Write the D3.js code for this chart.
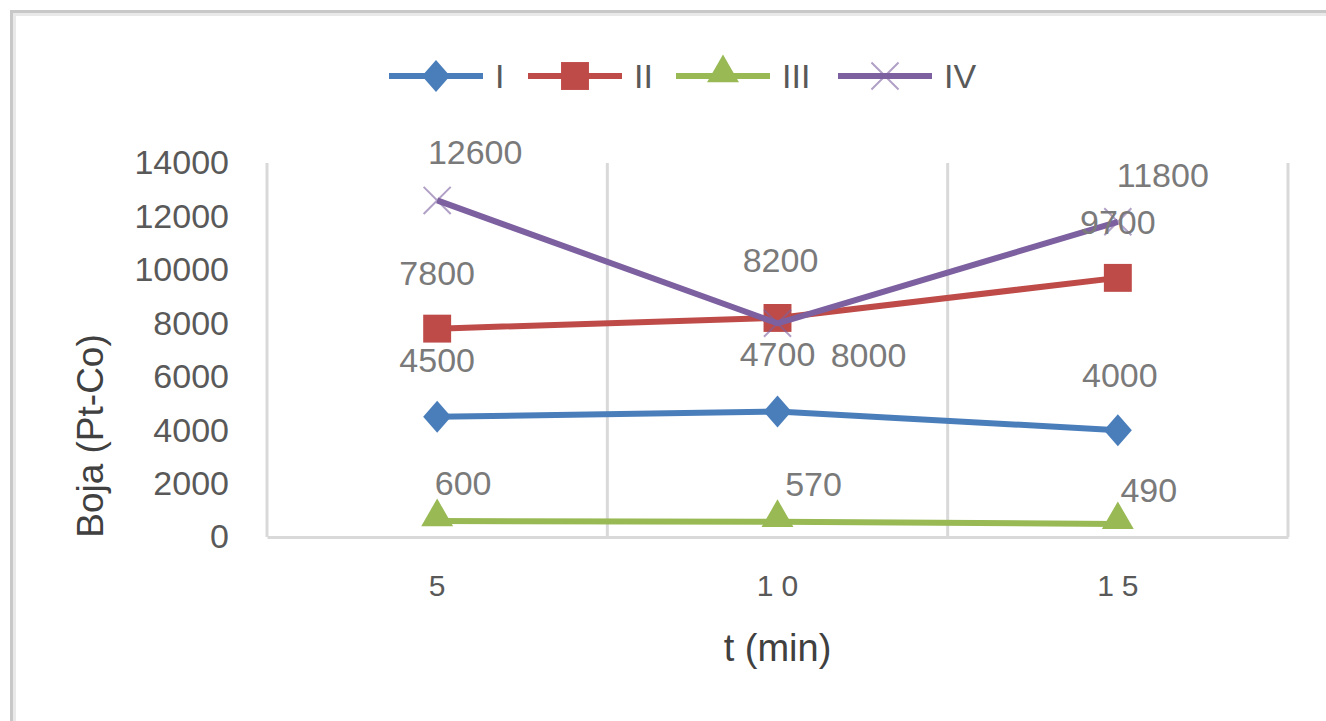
<!DOCTYPE html>
<html>
<head>
<meta charset="utf-8">
<script src="https://cdn.jsdelivr.net/npm/d3@7"></script>
<style>
  html, body { margin: 0; padding: 0; background: #fff; }
  svg { display: block; }
</style>
</head>
<body>
<svg class="chart"></svg>
<script>
// categories on the x axis (t in minutes)
const categories = ["5", "10", "15"];
const seriesNames = ["I", "II", "III", "IV"];

// colour values (Pt-Co) per series
const valuesI = [4500, 4700, 4000];
const valuesII = [7800, 8200, 9700];
const valuesIII = [600, 570, 490];
const valuesIV = [12600, 8000, 11800];

const yTicks = [0, 2000, 4000, 6000, 8000, 10000, 12000, 14000];

function createChart() {
  const width = 1326;
  const height = 721;
  const marginTop = 163;
  const marginBottom = 184;
  const marginLeft = 267;
  const marginRight = 38;

  const series = [
    { name: seriesNames[0], values: valuesI, color: "#4a7ebb", marker: "diamond" },
    { name: seriesNames[1], values: valuesII, color: "#be4b48", marker: "square" },
    { name: seriesNames[2], values: valuesIII, color: "#98b954", marker: "triangle" },
    { name: seriesNames[3], values: valuesIV, color: "#7d60a0", marker: "cross" }
  ];

  // label nudges (dx, dy) relative to each point, roughly as placed in the original
  const labelNudge = [
    [[0, -57], [0, -57], [2, -55]],
    [[0, -56], [3, -58], [0, -56]],
    [[26, -38], [36, -38], [31, -34]],
    [[38, -48], [91, 32], [45, -47]]
  ];

  const x = d3.scaleBand()
    .domain(categories)
    .range([marginLeft, width - marginRight]);

  const y = d3.scaleLinear()
    .domain([0, 14000])
    .range([height - marginBottom, marginTop]);

  const cx = c => x(c) + x.bandwidth() / 2;

  const svg = d3.select("svg.chart")
    .attr("width", width)
    .attr("height", height)
    .attr("viewBox", `0 0 ${width} ${height}`)
    .style("font-family", "'Liberation Sans', Arial, sans-serif");

  // outer chart border (only top/left visible in frame)
  svg.append("rect")
    .attr("x", 11.5).attr("y", 11.5)
    .attr("width", 1500).attr("height", 1000)
    .attr("fill", "none")
    .attr("stroke", "#c8c8c8")
    .attr("stroke-width", 3);
  svg.append("rect")
    .attr("x", 14.5).attr("y", 14.5)
    .attr("width", 1500).attr("height", 1000)
    .attr("fill", "none")
    .attr("stroke", "#e9e9e9")
    .attr("stroke-width", 3);

  // vertical gridlines at category boundaries
  const bounds = categories.map(c => x(c)).concat([width - marginRight]);
  svg.append("g")
    .attr("stroke", "#d9d9d9")
    .attr("stroke-width", 3)
    .selectAll("line")
    .data(bounds)
    .join("line")
    .attr("x1", d => d).attr("x2", d => d)
    .attr("y1", y(14000)).attr("y2", y(0));

  // x axis
  svg.append("g")
    .attr("transform", `translate(0,${y(0)})`)
    .call(d3.axisBottom(x).tickSize(0).tickPadding(38))
    .call(g => g.select(".domain").attr("stroke", "#d9d9d9").attr("stroke-width", 3))
    .call(g => g.selectAll("text")
      .attr("fill", "#595959")
      .attr("font-size", 30)
      .attr("letter-spacing", 8)
      .attr("dx", 4));

  // y axis labels
  svg.append("g")
    .attr("transform", `translate(${marginLeft},0)`)
    .call(d3.axisLeft(y).tickValues(yTicks).tickSize(0).tickPadding(38).tickFormat(d3.format("d")))
    .call(g => g.select(".domain").remove())
    .call(g => g.selectAll("text")
      .attr("fill", "#595959")
      .attr("font-size", 34));

  // axis titles
  svg.append("text")
    .attr("x", (marginLeft + width - marginRight) / 2)
    .attr("y", 648)
    .attr("dy", "0.35em")
    .attr("text-anchor", "middle")
    .attr("fill", "#404040")
    .attr("font-size", 38)
    .text("t (min)");

  svg.append("text")
    .attr("transform", `translate(90,${(y(0) + y(14000)) / 2 + 86}) rotate(-90)`)
    .attr("dy", "0.35em")
    .attr("text-anchor", "middle")
    .attr("fill", "#404040")
    .attr("font-size", 37)
    .text("Boja (Pt-Co)");

  const diamond = () => "M0,-16L14,0L0,16L-14,0Z";
  const markerPath = {
    diamond: diamond,
    square: d3.symbol(d3.symbolSquare, 780),
    triangle: d3.symbol(d3.symbolTriangle, 440),
    cross: d3.symbol(d3.symbolX, 480)
  };

  const line = d3.line()
    .x((d, i) => cx(categories[i]))
    .y(d => y(d));

  const gSeries = svg.append("g")
    .selectAll("g")
    .data(series)
    .join("g");

  gSeries.append("path")
    .attr("fill", "none")
    .attr("stroke", d => d.color)
    .attr("stroke-width", 6)
    .attr("stroke-linejoin", "round")
    .attr("d", d => line(d.values));

  gSeries.each(function(s) {
    const g = d3.select(this);
    g.selectAll("path.marker")
      .data(s.values)
      .join("path")
      .attr("class", "marker")
      .attr("transform", (d, i) => `translate(${cx(categories[i])},${y(d) + (s.marker === "triangle" ? -4 : 0)})`)
      .attr("d", markerPath[s.marker])
      .attr("fill", s.marker === "cross" ? "none" : s.color)
      .attr("stroke", s.color)
      .attr("stroke-width", s.marker === "cross" ? 2 : 0)
      .attr("opacity", s.marker === "cross" ? 0.6 : 1);
  });

  // data labels
  const labels = [];
  series.forEach((s, si) => s.values.forEach((v, i) => labels.push({ v, i, si })));
  svg.append("g")
    .attr("text-anchor", "middle")
    .attr("fill", "#7a7a7a")
    .attr("font-size", 34)
    .selectAll("text")
    .data(labels)
    .join("text")
    .attr("x", d => cx(categories[d.i]) + labelNudge[d.si][d.i][0])
    .attr("y", d => y(d.v) + labelNudge[d.si][d.i][1])
    .attr("dy", "0.35em")
    .text(d => d.v);

  // legend
  const legendX = [389, 528, 676, 838];
  const legend = svg.append("g")
    .attr("transform", "translate(0,76)")
    .selectAll("g")
    .data(series)
    .join("g")
    .attr("transform", (d, i) => `translate(${legendX[i]},0)`);

  legend.append("line")
    .attr("x1", 0).attr("x2", 94)
    .attr("stroke", d => d.color)
    .attr("stroke-width", 6);

  legend.append("path")
    .attr("transform", d => `translate(47,${d.marker === "triangle" ? -3 : 0})`)
    .attr("d", d => markerPath[d.marker]())
    .attr("fill", d => d.marker === "cross" ? "none" : d.color)
    .attr("stroke", d => d.color)
    .attr("stroke-width", d => d.marker === "cross" ? 2 : 0)
    .attr("opacity", d => d.marker === "cross" ? 0.6 : 1);

  legend.append("text")
    .attr("x", 106)
    .attr("dy", "0.35em")
    .attr("fill", "#595959")
    .attr("font-size", 34)
    .text(d => d.name);
}

createChart();
</script>
</body>
</html>
